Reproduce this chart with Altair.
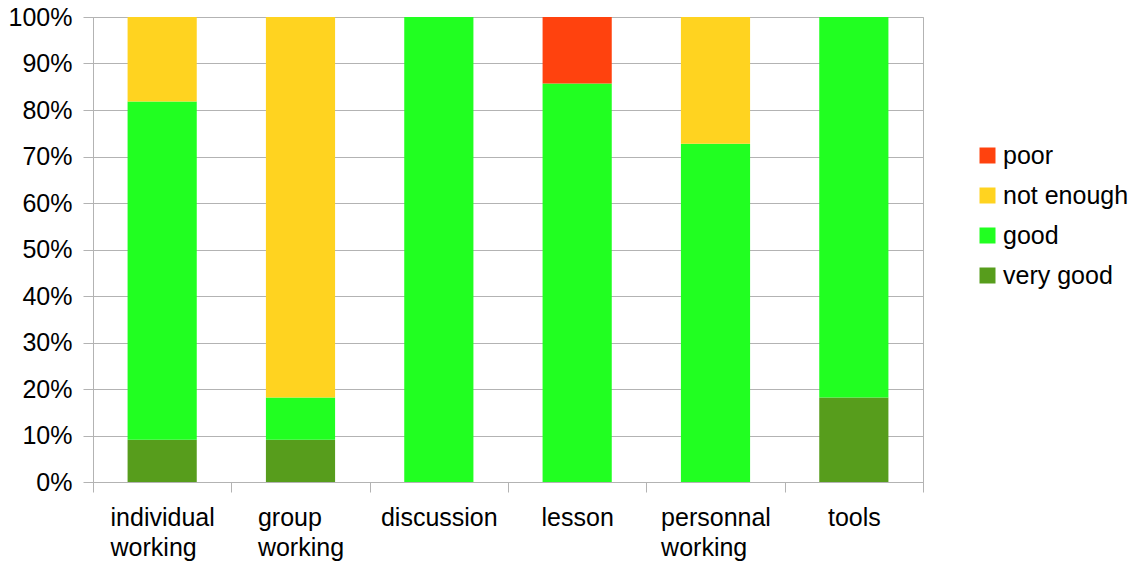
import altair as alt
import pandas as pd

categories = ["individual working", "group working", "discussion", "lesson", "personnal working", "tools"]
ratings = ["poor", "not enough", "good", "very good"]
poor = [0, 0, 0, 1, 0, 0]
not_enough = [2, 9, 0, 0, 3, 0]
good = [8, 1, 11, 6, 8, 9]
very_good = [1, 1, 0, 0, 0, 2]
colors = ["#ff420e", "#ffd320", "#21ff21", "#579d1c"]

FONT = "Liberation Sans"
FS = 25

# approximate Arial glyph widths (per 1000 em), used only to left-align two-line tick labels
W = {"a": 556, "b": 556, "c": 500, "d": 556, "e": 556, "g": 556, "h": 556, "i": 222,
     "k": 500, "l": 222, "n": 556, "o": 556, "p": 556, "r": 333, "s": 500, "t": 278,
     "u": 556, "v": 500, "w": 722, "y": 500}


def tw(s):
    return sum(W.get(ch, 556) for ch in s) * FS / 1000.0


offset_conds = []
for c in categories:
    widest = max(tw(l) for l in c.split(" "))
    offset_conds.append({"test": "datum.value == '%s'" % c, "value": round(-widest / 2, 1)})

rows = []
for series, name, rank in [(very_good, "very good", 0), (good, "good", 1), (not_enough, "not enough", 2), (poor, "poor", 3)]:
    for c, v in zip(categories, series):
        rows.append({"category": c, "rating": name, "count": v, "rank": rank})
df = pd.DataFrame(rows)

chart = alt.Chart(df).mark_bar(width=alt.RelativeBandSize(0.5)).encode(
    x=alt.X("category:N", sort=categories, title=None,
            scale=alt.Scale(paddingInner=0, paddingOuter=0),
            axis=alt.Axis(labelAngle=0, labelExpr="split(datum.label, ' ')",
                          labelAlign="left",
                          labelOffset={"condition": offset_conds, "value": 0},
                          labelFontSize=FS, labelFont=FONT, labelColor="#000000",
                          labelLineHeight=30, labelPadding=13, labelBaseline="top",
                          tickBand="extent", tickSize=10, tickColor="#b3b3b3",
                          domainColor="#b3b3b3", grid=False)),
    y=alt.Y("count:Q", stack="normalize", title=None,
            scale=alt.Scale(domain=[0, 1]),
            axis=alt.Axis(values=[0, 0.1, 0.2, 0.3, 0.4, 0.5, 0.6, 0.7, 0.8, 0.9, 1.0],
                          format=".0%", labelFontSize=FS, labelFont=FONT,
                          labelColor="#000000", labelPadding=11,
                          tickSize=10, tickColor="#b3b3b3", domainColor="#b3b3b3",
                          gridColor="#b3b3b3")),
    color=alt.Color("rating:N", scale=alt.Scale(domain=ratings, range=colors),
                    legend=alt.Legend(title=None, orient="none", legendX=882, legendY=126,
                                      symbolType="square", symbolSize=256,
                                      symbolStrokeWidth=0, labelFontSize=FS,
                                      labelFont=FONT, labelColor="#000000",
                                      labelOffset=3, rowPadding=14)),
    order=alt.Order("rank:Q", sort="ascending"),
).properties(
    width=830, height=465,
    padding={"left": 85, "top": 9, "right": 210, "bottom": 90},
    autosize=alt.AutoSizeParams(type="none"),
).configure_view(stroke="#b3b3b3")

chart.save("out.html", embed_options={"renderer": "svg", "actions": False})
